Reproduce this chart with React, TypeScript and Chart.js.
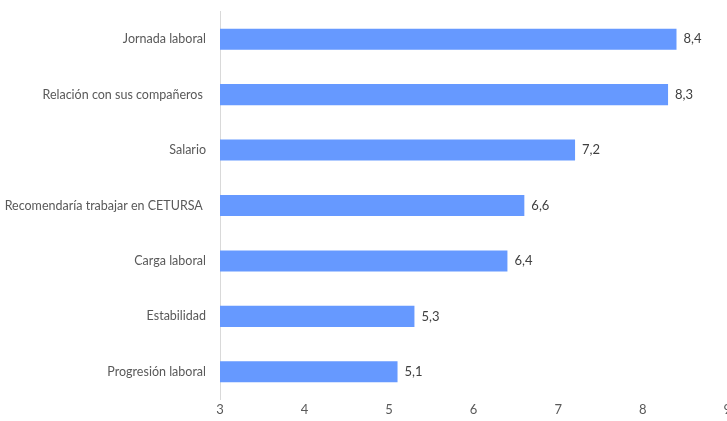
import React, { useEffect, useRef } from "react";
import { Chart, registerables } from "chart.js";

Chart.register(...registerables);

const categories = [
  "Jornada laboral",
  "Relación con sus compañeros ",
  "Salario",
  "Recomendaría trabajar en CETURSA ",
  "Carga laboral",
  "Estabilidad",
  "Progresión laboral",
];
const values = [8.4, 8.3, 7.2, 6.6, 6.4, 5.3, 5.1];
const xMin = 3;
const xMax = 9;

const FONT = "Lato, 'Open Sans', sans-serif";

const valueLabels = {
  id: "valueLabels",
  afterDatasetsDraw(chart: any) {
    const ctx = chart.ctx;
    const meta = chart.getDatasetMeta(0);
    ctx.save();
    ctx.font = `13px ${FONT}`;
    ctx.fillStyle = "#404040";
    ctx.textAlign = "left";
    ctx.textBaseline = "middle";
    meta.data.forEach((bar: any, i: number) => {
      const txt = values[i].toFixed(1).replace(".", ",");
      ctx.fillText(txt, bar.x + 7, bar.y);
    });
    ctx.restore();
  },
};

export default function App() {
  const ref = useRef<HTMLCanvasElement>(null);
  useEffect(() => {
    document.body.style.margin = "0";
    document.body.style.overflow = "hidden";
    const chart = new Chart(ref.current!, {
      type: "bar",
      data: {
        labels: categories,
        datasets: [
          {
            data: values,
            backgroundColor: "#6699ff",
            borderWidth: 0,
            barPercentage: 0.76,
            categoryPercentage: 0.5,
          },
        ],
      },
      options: {
        indexAxis: "y",
        animation: false,
        responsive: false,
        maintainAspectRatio: false,
        layout: { padding: { top: 0, right: 0, bottom: 0, left: 0 } },
        plugins: {
          legend: { display: false },
          tooltip: { enabled: false },
        },
        scales: {
          x: {
            min: xMin,
            max: xMax,
            afterFit: (s: any) => {
              s.height = 21;
            },
            ticks: {
              stepSize: 1,
              color: "#595959",
              font: { family: FONT, size: 13 },
              padding: 3,
            },
            grid: { display: false, drawTicks: false },
            border: { display: false },
          },
          y: {
            afterFit: (s: any) => {
              s.width = 220;
            },
            ticks: {
              color: "#595959",
              font: { family: FONT, size: 12.5 },
              padding: 14,
            },
            grid: { display: false, drawTicks: false },
            border: { display: true, color: "#d9d9d9", width: 1 },
          },
        },
      },
      plugins: [valueLabels],
    });
    return () => chart.destroy();
  }, []);
  return (
    <div style={{ position: "fixed", left: 0, top: -10, width: 734, height: 431 }}>
      <canvas ref={ref} width={734} height={431} />
    </div>
  );
}
